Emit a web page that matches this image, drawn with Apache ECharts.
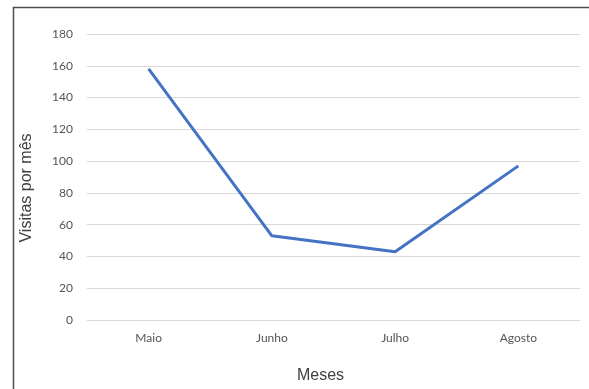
<!DOCTYPE html>
<html>
<head>
<meta charset="utf-8">
<script src="https://cdn.jsdelivr.net/npm/echarts@6/dist/echarts.min.js"></script>
<style>
  html, body { margin: 0; padding: 0; background: #fff; }
  #chart { width: 589px; height: 389px; }
</style>
</head>
<body>
<div id="chart"></div>
<script>
// Monthly visits
const months = ['Maio', 'Junho', 'Julho', 'Agosto'];
const visits = [158, 53, 43, 97];
const yMin = 0, yMax = 180, yStep = 20;

const chart = echarts.init(document.getElementById('chart'), null, { renderer: 'canvas' });
chart.setOption({
  backgroundColor: '#ffffff',
  animation: false,
  graphic: [{
    type: 'rect',
    left: 11, top: 5,
    shape: { width: 620, height: 420 },
    style: { fill: 'none', stroke: '#4d4d4d', lineWidth: 1.5 },
    silent: true
  }],
  grid: { left: 87, right: 9, top: 34, bottom: 68, containLabel: false },
  xAxis: {
    type: 'category',
    data: months,
    boundaryGap: true,
    axisLine: { show: false },
    axisTick: { show: false },
    axisLabel: { color: '#555555', fontFamily: 'Lato', fontSize: 12, margin: 12 },
    name: 'Meses',
    nameLocation: 'middle',
    nameGap: 48,
    nameTextStyle: { color: '#404040', fontFamily: 'Liberation Sans', fontSize: 16, padding: [0, 26, 0, 0] }
  },
  yAxis: {
    type: 'value',
    min: yMin, max: yMax, interval: yStep,
    axisLine: { show: false },
    axisTick: { show: false },
    splitLine: { lineStyle: { color: '#d9d9d9', width: 1 } },
    axisLabel: { color: '#555555', fontFamily: 'Lato', fontSize: 12, margin: 14 },
    name: 'Visitas por mês',
    nameLocation: 'middle',
    nameGap: 52,
    nameRotate: 90,
    nameTextStyle: { color: '#404040', fontFamily: 'Liberation Sans', fontSize: 16, padding: [0, 22, 0, 0] }
  },
  series: [{
    type: 'line',
    data: visits,
    symbol: 'none',
    lineStyle: { color: '#4472c4', width: 3 },
    itemStyle: { color: '#4472c4' }
  }]
});
</script>
</body>
</html>
